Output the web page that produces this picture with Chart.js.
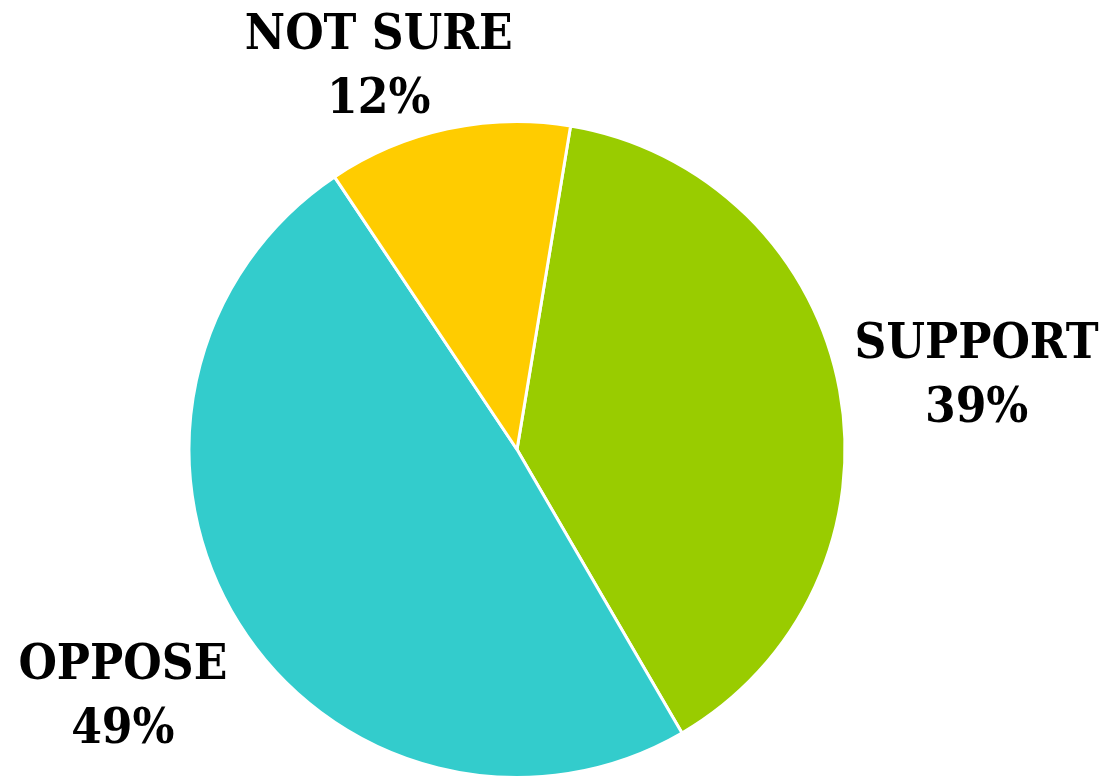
<!DOCTYPE html>
<html>
<head>
<meta charset="utf-8">
<script src="https://cdn.jsdelivr.net/npm/chart.js@4/dist/chart.umd.min.js"></script>
<style>
  html, body { margin: 0; padding: 0; background: #fff; }
  #wrap { width: 1105px; height: 781px; position: relative; }
</style>
</head>
<body>
<div id="wrap"><canvas id="myChart"></canvas></div>
<script>
// datos del grafico
const categorias = ["SUPPORT", "OPPOSE", "NOT SURE"];
const porcentajes = [39, 49, 12];
const colores = ["#99CC00", "#33CCCC", "#FFCC00"];

// desplazamiento de cada etiqueta desde el borde exterior de su porcion
const desplazamientos = [[137, -32], [-116, 56], [-69, -80]];

const etiquetasPlugin = {
  id: "etiquetas",
  afterDraw: (chart) => {
    const ctx = chart.ctx;
    const meta = chart.getDatasetMeta(0);
    meta.data.forEach((arc, i) => {
      const mid = (arc.startAngle + arc.endAngle) / 2;
      const px = arc.x + Math.cos(mid) * arc.outerRadius;
      const py = arc.y + Math.sin(mid) * arc.outerRadius;
      const [dx, dy] = desplazamientos[i];
      ctx.save();
      ctx.translate(px + dx, py + dy);
      ctx.scale(0.92, 1); // letra un poco mas angosta
      ctx.fillStyle = "#000";
      ctx.font = "bold 48px 'DejaVu Serif'";
      ctx.textAlign = "center";
      ctx.textBaseline = "alphabetic";
      ctx.fillText(categorias[i], 0, 0);
      ctx.fillText(porcentajes[i] + "%", 0, 64);
      ctx.restore();
    });
  },
};

const data = {
  labels: categorias,
  datasets: [
    {
      data: porcentajes,
      backgroundColor: colores,
      borderColor: "#FFFFFF",
      borderWidth: 3,
    },
  ],
};

const config = {
  type: "pie",
  data,
  options: {
    responsive: true,
    maintainAspectRatio: false,
    devicePixelRatio: 1,
    animation: false,
    rotation: 9.4,
    radius: 328,
    layout: { padding: { top: 120, bottom: 2, left: 0, right: 71 } },
    plugins: {
      legend: { display: false },
      tooltip: { enabled: false },
    },
  },
  plugins: [etiquetasPlugin],
};

const myChart = new Chart(document.getElementById("myChart"), config);
</script>
</body>
</html>
